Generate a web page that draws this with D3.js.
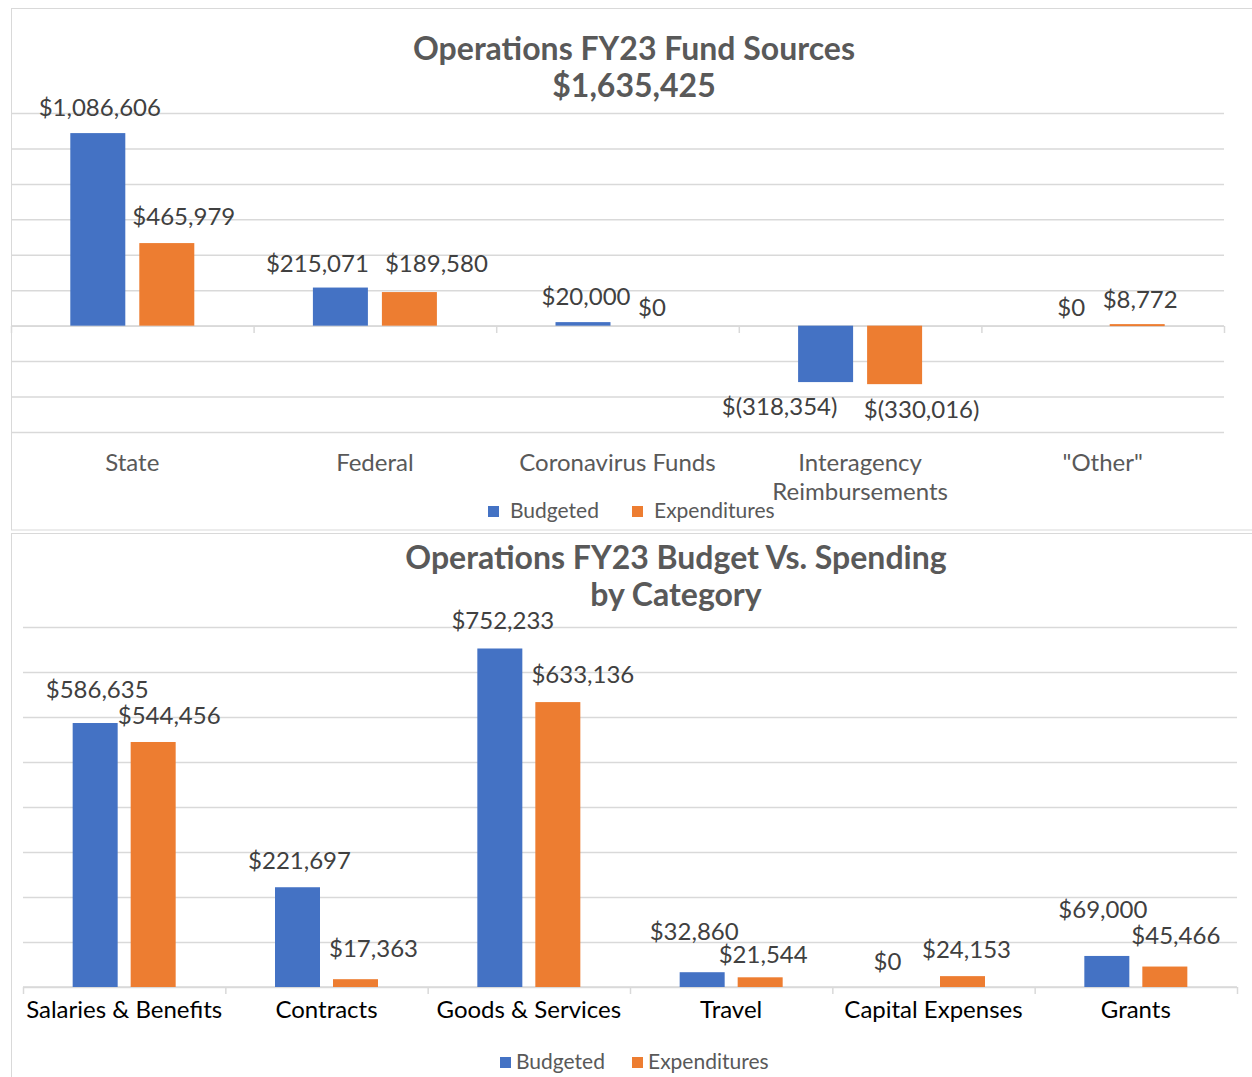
<!DOCTYPE html>
<html>
<head>
<meta charset="utf-8">
<script src="https://cdn.jsdelivr.net/npm/d3@7"></script>
<style>
  body { margin: 0; background: #fff; }
  svg { display: block; font-family: Lato, "Open Sans", sans-serif; }
</style>
</head>
<body>
<div id="chart"></div>
<script>
// data

const series = ["Budgeted", "Expenditures"];
const seriesColors = ["#4472C4", "#ED7D31"];

const fundTitle = ["Operations FY23 Fund Sources", "$1,635,425"];
const fundCategories = ["State", "Federal", "Coronavirus Funds", "Interagency Reimbursements", "\"Other\""];
const fundBudgeted = [1086606, 215071, 20000, -318354, 0];
const fundExpenditures = [465979, 189580, 0, -330016, 8772];
const fundGrid = [-600000, -400000, -200000, 0, 200000, 400000, 600000, 800000, 1000000, 1200000];

const spendTitle = ["Operations FY23 Budget Vs. Spending", "by Category"];
const spendCategories = ["Salaries & Benefits", "Contracts", "Goods & Services", "Travel", "Capital Expenses", "Grants"];
const spendBudgeted = [586635, 221697, 752233, 32860, 0, 69000];
const spendExpenditures = [544456, 17363, 633136, 21544, 24153, 45466];
const spendGrid = [0, 100000, 200000, 300000, 400000, 500000, 600000, 700000, 800000];

// label nudges (dx, dy) for the data labels, per series, as placed in the original
const fundNudge = [
  [[2, -1], [-23, 0], [3, -1], [-46, 0], [3, 6]],
  [[17, -2], [27, -4], [0, 6], [27, 1], [3, 0]]
];
const spendNudge = [
  [[2, -6], [2, 1], [3, 0], [-8, -13], [-17, 2], [-4, -19]],
  [[16, 1], [18, -3], [25, 0], [3, 5], [4, 1], [11, -4]]
];

const width = 1252;
const height = 1077;

const svg = d3.select("#chart")
  .append("svg")
  .attr("width", width)
  .attr("height", height);

// chart frames
svg.append("rect")
  .attr("x", 11.5).attr("y", 8.5)
  .attr("width", 1260).attr("height", 521.5)
  .attr("fill", "none").attr("stroke", "#d9d9d9");
svg.append("rect")
  .attr("x", 11.5).attr("y", 533.5)
  .attr("width", 1260).attr("height", 600)
  .attr("fill", "none").attr("stroke", "#d9d9d9");

function money(v) {
  const f = d3.format(",");
  return v < 0 ? "$(" + f(-v) + ")" : "$" + f(v);
}

function wrap(textSel, maxWidth, lineHeight) {
  textSel.each(function () {
    const text = d3.select(this);
    const words = text.text().split(" ");
    const x = text.attr("x");
    text.text(null);
    let line = [];
    let tspan = text.append("tspan").attr("x", x);
    words.forEach((w) => {
      line.push(w);
      tspan.text(line.join(" "));
      if (tspan.node().getComputedTextLength() > maxWidth && line.length > 1) {
        line.pop();
        tspan.text(line.join(" "));
        line = [w];
        tspan = text.append("tspan").attr("x", x).attr("dy", lineHeight).text(w);
      }
    });
  });
}

function drawChart(p) {
  const g = svg.append("g");

  // scales
  const x = d3.scaleBand().domain(p.categories).range([p.left, p.right]);
  const bw = x.bandwidth();
  const groupW = 2 * p.barW + p.barGap;
  const x1 = d3.scaleBand()
    .domain(series)
    .range([(bw - groupW) / 2, (bw + groupW) / 2])
    .paddingInner(p.barGap / (p.barW + p.barGap));
  const y = d3.scaleLinear().domain(p.domain).range([p.bottom, p.top]);

  // gridlines
  const yAxis = d3.axisLeft(y)
    .tickValues(p.grid)
    .tickSize(-(p.right - p.left))
    .tickFormat("");
  g.append("g")
    .attr("transform", `translate(${p.left}, 0)`)
    .call(yAxis)
    .call((a) => a.select(".domain").remove())
    .call((a) => a.selectAll(".tick line").attr("stroke", "#d9d9d9").attr("stroke-width", 1.5));

  // category axis with ticks between bands
  const y0 = Math.round(y(0));
  g.append("line")
    .attr("x1", p.left).attr("x2", p.right)
    .attr("y1", y0).attr("y2", y0)
    .attr("stroke", "#d9d9d9").attr("stroke-width", 1.5);
  const bounds = p.categories.map((c) => x(c)).concat([p.right]);
  g.append("g")
    .selectAll("line")
    .data(bounds)
    .join("line")
    .attr("x1", (d) => d + 0.5).attr("x2", (d) => d + 0.5)
    .attr("y1", y0).attr("y2", y0 + 7)
    .attr("stroke", "#d9d9d9").attr("stroke-width", 1.5);

  // bars
  const rows = [];
  series.forEach((s, si) => {
    p.values[si].forEach((v, ci) => {
      rows.push({ s, si, ci, c: p.categories[ci], v });
    });
  });

  g.append("g")
    .selectAll("rect")
    .data(rows.filter((d) => d.v !== 0))
    .join("rect")
    .attr("fill", (d) => seriesColors[d.si])
    .attr("x", (d) => x(d.c) + x1(d.s))
    .attr("width", x1.bandwidth())
    .attr("y", (d) => Math.min(y(d.v), y(0)))
    .attr("height", (d) => Math.max(Math.abs(y(0) - y(d.v)), 2));

  // data labels
  g.append("g")
    .selectAll("text")
    .data(rows)
    .join("text")
    .attr("x", (d) => x(d.c) + x1(d.s) + x1.bandwidth() / 2 + p.nudge[d.si][d.ci][0])
    .attr("y", (d) => (d.v < 0 ? y(d.v) + p.labelGap + 9 : y(d.v) - p.labelGap + 8) + p.nudge[d.si][d.ci][1])
    .attr("text-anchor", "middle")
    .attr("font-size", 24)
    .attr("fill", "#404040")
    .text((d) => money(d.v));

  // category labels
  g.append("g")
    .selectAll("text")
    .data(p.categories)
    .join("text")
    .attr("x", (d) => x(d) + bw / 2)
    .attr("y", p.catY)
    .attr("text-anchor", "middle")
    .attr("font-size", 24)
    .attr("fill", p.catColor)
    .text((d) => d)
    .call(wrap, bw + 10, 29);

  // title
  g.append("text")
    .attr("x", p.titleX)
    .attr("y", p.titleY)
    .attr("text-anchor", "middle")
    .attr("font-size", 32)
    .attr("font-weight", "bold")
    .attr("fill", "#595959")
    .selectAll("tspan")
    .data(p.title)
    .join("tspan")
    .attr("x", p.titleX)
    .attr("dy", (d, i) => (i === 0 ? 0 : 37))
    .text((d) => d);

  // legend
  const legend = g.append("g");
  series.forEach((s, i) => {
    const lx = p.legendX[i];
    legend.append("rect")
      .attr("x", lx).attr("y", p.legendY - 12)
      .attr("width", 11).attr("height", 11)
      .attr("fill", seriesColors[i]);
    legend.append("text")
      .attr("x", lx + p.legendTextGap)
      .attr("y", p.legendY)
      .attr("font-size", 21)
      .attr("fill", "#595959")
      .text(s);
  });
}

drawChart({
  categories: fundCategories,
  values: [fundBudgeted, fundExpenditures],
  grid: fundGrid,
  domain: [-600000, 1200000],
  left: 11, right: 1224, top: 113, bottom: 432,
  barW: 55, barGap: 14,
  labelGap: 24,
  nudge: fundNudge,
  catY: 471, catColor: "#595959",
  title: fundTitle, titleX: 634, titleY: 60,
  legendX: [488, 632], legendY: 518, legendTextGap: 22
});

drawChart({
  categories: spendCategories,
  values: [spendBudgeted, spendExpenditures],
  grid: spendGrid,
  domain: [0, 800000],
  left: 23, right: 1237, top: 627, bottom: 987,
  barW: 45, barGap: 13,
  labelGap: 27,
  nudge: spendNudge,
  catY: 1018, catColor: "#000000",
  title: spendTitle, titleX: 676, titleY: 569,
  legendX: [500, 632], legendY: 1069, legendTextGap: 16
});
</script>
</body>
</html>
